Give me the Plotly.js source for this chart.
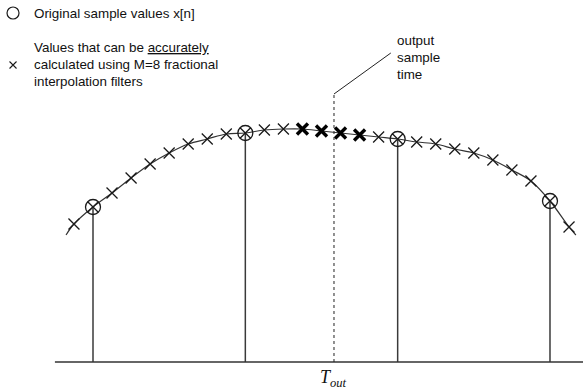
<!DOCTYPE html>
<html>
<head>
<meta charset="utf-8">
<script src="https://cdn.plot.ly/plotly-3.0.1.min.js"></script>
<style>html,body{margin:0;padding:0;background:#fff}#chart{width:583px;height:390px}</style>
</head>
<body>
<div id="chart"></div>
<script>
// Original samples x[n]
const sampleX = [0, 1, 2, 3];
const sampleY = [155, 229, 223, 161];
// Fractional-interpolation values (thin crosses)
const thinX = [-0.125, 0.125, 0.25, 0.375, 0.5, 0.625, 0.75, 0.875, 1.125, 1.25, 1.875, 2.125, 2.25, 2.375, 2.5, 2.625, 2.75, 2.875, 3.125];
const thinY = [138, 169, 184, 198, 209, 218, 223, 228, 232, 233, 225, 220, 218, 213, 209, 202, 192, 181, 135];
// Values used around output time (bold crosses)
const boldX = [1.375, 1.5, 1.625, 1.75];
const boldY = [233, 231, 229, 227];
// Underlying continuous signal
const curveX = [-0.177, -0.125, 0, 0.125, 0.25, 0.375, 0.5, 0.625, 0.75, 0.875, 1, 1.125, 1.25, 1.375, 1.5, 1.625, 1.75, 1.875, 2, 2.125, 2.25, 2.375, 2.5, 2.625, 2.75, 2.875, 3, 3.125, 3.17];
const curveY = [127, 138, 155, 169, 184, 198, 209, 218, 223, 228, 229, 232, 233, 233, 231, 229, 227, 225, 223, 220, 218, 213, 209, 202, 192, 181, 161, 135, 127];
const tOut = 1.582;
const legendText = ["Original sample values x[n]", "Values that can be <u>accurately</u>", "calculated using M=8 fractional", "interpolation filters"];
const calloutText = ["output", "sample", "time"];

const stemX = [], stemY = [];
sampleX.forEach((x, i) => { stemX.push(x, x, null); stemY.push(sampleY[i], 0, null); });

const ink = '#1a1a1a';
const traces = [
  {x: stemX, y: stemY, mode: 'lines', line: {color: '#3a3a3a', width: 1.5}, hoverinfo: 'skip'},
  {x: curveX, y: curveY, mode: 'lines', line: {color: '#333', width: 1.2, shape: 'spline', smoothing: 1}, hoverinfo: 'skip'},
  {x: thinX, y: thinY, mode: 'markers', marker: {symbol: 'x-thin-open', size: 11, color: ink, line: {color: ink, width: 1.3}}},
  {x: boldX, y: boldY, mode: 'markers', marker: {symbol: 'x-thin-open', size: 11, color: '#000', line: {color: '#000', width: 3.4}}},
  {x: sampleX, y: sampleY, mode: 'markers', marker: {symbol: 'circle-x-open', size: 15, color: ink, line: {color: ink, width: 1.3}}},
  // legend symbols
  {x: [-0.525], y: [349], mode: 'markers', marker: {symbol: 'circle-open', size: 12, color: ink, line: {color: ink, width: 1.2}}},
  {x: [-0.525], y: [297], mode: 'markers', marker: {symbol: 'x-thin-open', size: 7, color: ink, line: {color: ink, width: 1.1}}}
];

const font = {family: 'Liberation Sans, Arial, sans-serif', size: 13.4, color: '#111'};
const annotations = [
  {xref: 'x', yref: 'y', x: -0.4, y: 349, text: legendText[0], showarrow: false, xanchor: 'left', yanchor: 'middle', font: font},
  {xref: 'x', yref: 'y', x: -0.4, y: 315, text: legendText[1], showarrow: false, xanchor: 'left', yanchor: 'middle', font: font},
  {xref: 'x', yref: 'y', x: -0.4, y: 298, text: legendText[2], showarrow: false, xanchor: 'left', yanchor: 'middle', font: font},
  {xref: 'x', yref: 'y', x: -0.4, y: 281, text: legendText[3], showarrow: false, xanchor: 'left', yanchor: 'middle', font: font},
  {xref: 'x', yref: 'y', x: 1.98, y: 322, text: calloutText[0], showarrow: false, xanchor: 'left', yanchor: 'middle', font: font},
  {xref: 'x', yref: 'y', x: 1.98, y: 305, text: calloutText[1], showarrow: false, xanchor: 'left', yanchor: 'middle', font: font},
  {xref: 'x', yref: 'y', x: 1.98, y: 288, text: calloutText[2], showarrow: false, xanchor: 'left', yanchor: 'middle', font: font},
  {xref: 'x', yref: 'y', x: tOut, y: -16, text: '<i>T<sub>out</sub></i>', showarrow: false, xanchor: 'center', yanchor: 'middle',
   font: {family: 'Liberation Serif, Times New Roman, serif', size: 18, color: '#111'}}
];

const shapes = [
  {type: 'line', xref: 'x', yref: 'y', x0: -0.25, x1: 3.3, y0: 0, y1: 0, line: {color: '#333', width: 1.5}},
  {type: 'line', xref: 'x', yref: 'y', x0: tOut, x1: tOut, y0: 0, y1: 268, line: {color: '#222', width: 1, dash: 'dot'}},
  {type: 'line', xref: 'x', yref: 'y', x0: tOut, x1: 1.955, y0: 268, y1: 309, line: {color: '#222', width: 1}}
];

const layout = {
  width: 583, height: 390,
  margin: {l: 0, r: 0, t: 0, b: 0},
  showlegend: false,
  paper_bgcolor: '#fff', plot_bgcolor: '#fff',
  xaxis: {range: [-0.6105, 3.2167], visible: false, fixedrange: true},
  yaxis: {range: [-28, 362], visible: false, fixedrange: true},
  annotations: annotations,
  shapes: shapes
};

Plotly.newPlot('chart', traces, layout, {displayModeBar: false, staticPlot: true});
</script>
</body>
</html>
